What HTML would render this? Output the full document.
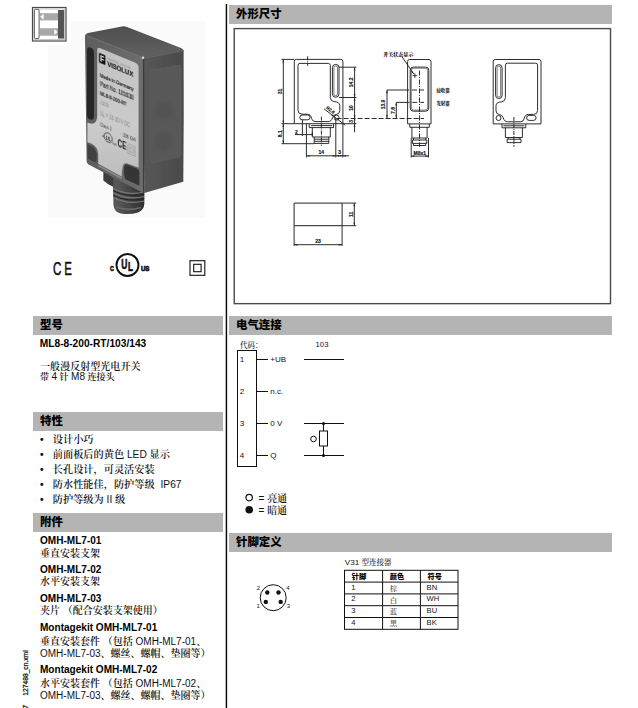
<!DOCTYPE html>
<html lang="zh-CN">
<head>
<meta charset="utf-8">
<title>ML8-8-200-RT/103/143</title>
<style>
html,body{margin:0;padding:0;background:#fff;}
body{width:638px;height:708px;position:relative;overflow:hidden;font-family:"Liberation Sans","Noto Serif CJK SC",sans-serif;color:#111;}
.abs{position:absolute;white-space:nowrap;}
.bar{position:absolute;background:#b4b4b4;height:19px;}
.bar span{position:absolute;left:7px;top:0;line-height:19px;font:900 11.4px/19px "Liberation Sans","Noto Sans CJK SC",sans-serif;color:#000;letter-spacing:0;}
.t{position:absolute;left:40px;white-space:nowrap;font-size:10.2px;line-height:12px;color:#111;}
.b{font-weight:bold;font-family:"Liberation Sans","Noto Sans CJK SC",sans-serif;color:#000;}
.s{font-family:"Liberation Sans","Noto Serif CJK SC",serif;font-weight:600;}
.s i{font-style:normal;font-weight:400;}
svg{position:absolute;left:0;top:0;overflow:visible;}
svg text{font-family:"Liberation Sans","Noto Serif CJK SC",sans-serif;}
svg .hei text, svg text.hei{font-family:"Liberation Sans","Noto Sans CJK SC",sans-serif;}
</style>
</head>
<body>

<!-- vertical divider -->
<svg width="638" height="708" viewBox="0 0 638 708"><rect x="225.7" y="4" width="1.45" height="704" fill="#0a0a0a"/><rect x="234.25" y="28.6" width="376.25" height="275.05" fill="none" stroke="#4a4a4a" stroke-width="1.4"/></svg>

<!-- LEFT COLUMN BARS -->
<div class="bar" style="left:33px;top:316px;width:190px;"><span>型号</span></div>
<div class="bar" style="left:33px;top:412px;width:190px;"><span>特性</span></div>
<div class="bar" style="left:33px;top:513px;width:190px;height:18.5px;"><span>附件</span></div>

<!-- RIGHT COLUMN BARS -->
<div class="bar" style="left:229px;top:5px;width:383px;"><span>外形尺寸</span></div>
<div class="bar" style="left:229px;top:316px;width:383px;"><span>电气连接</span></div>
<div class="bar" style="left:229px;top:533px;width:383px;"><span>针脚定义</span></div>

<!-- dimension box -->


<!-- LEFT TEXT -->
<div class="t b" style="top:338px;left:39.8px;font-size:10.2px;">ML8-8-200-RT/103/143</div>
<div class="t s" style="top:360.7px;font-size:10.05px;">一般漫反射型光电开关</div>
<div class="t s" style="top:371px;font-size:9px;">带 <i style="font-size:10px">4</i> 针 <i style="font-size:10px">M8</i> 连接头</div>

<div class="t s" style="top:434.4px;left:40px;">•</div><div class="t s" style="top:434.4px;left:52.8px;">设计小巧</div>
<div class="t s" style="top:449.4px;left:40px;">•</div><div class="t s" style="top:449.4px;left:52.8px;">前面板后的黄色 <i>LED</i> 显示</div>
<div class="t s" style="top:464.4px;left:40px;">•</div><div class="t s" style="top:464.4px;left:52.8px;">长孔设计，可灵活安装</div>
<div class="t s" style="top:479.4px;left:40px;">•</div><div class="t s" style="top:479.4px;left:52.8px;">防水性能佳，防护等级<i style="margin-left:3px"> IP67</i></div>
<div class="t s" style="top:494.4px;left:40px;">•</div><div class="t s" style="top:494.4px;left:52.8px;">防护等级为 <i>II</i> 级</div>

<div class="t b" style="top:534.8px;font-size:10.05px;">OMH-ML7-01</div>
<div class="t s" style="top:547.9px;font-size:10px;">垂直安装支架</div>
<div class="t b" style="top:563.8px;font-size:10.05px;">OMH-ML7-02</div>
<div class="t s" style="top:576.4px;font-size:10px;">水平安装支架</div>
<div class="t b" style="top:593.3px;font-size:10.05px;">OMH-ML7-03</div>
<div class="t s" style="top:605.4px;font-size:10px;">夹片 （配合安装支架使用）</div>
<div class="t b" style="top:622.3px;font-size:10.05px;">Montagekit OMH-ML7-01</div>
<div class="t s" style="top:635.9px;font-size:10px;">垂直安装套件 （包括 <i>OMH-ML7-01</i>、</div>
<div class="t s" style="top:647.9px;font-size:10px;"><i>OMH-ML7-03</i>、螺丝、螺帽、垫圈等）</div>
<div class="t b" style="top:664.3px;font-size:10.05px;">Montagekit OMH-ML7-02</div>
<div class="t s" style="top:677.9px;font-size:10px;">水平安装套件 （包括 <i>OMH-ML7-02</i>、</div>
<div class="t s" style="top:689.9px;font-size:10px;"><i>OMH-ML7-03</i>、螺丝、螺帽、垫圈等）</div>

<!-- rotated side text -->
<div class="abs" style="left:25.6px;top:673.4px;font-size:6.7px;line-height:6px;color:#000;-webkit-text-stroke:0.2px #000;transform:translate(-50%,-50%) rotate(-90deg);">127488_cn.xml</div>
<div class="abs" style="left:25.6px;top:706.5px;font-size:6.7px;line-height:6px;color:#000;-webkit-text-stroke:0.2px #000;transform:translate(-50%,-50%) rotate(-90deg);">7</div>

<!-- ELECTRICAL CONNECTION -->
<svg width="638" height="708" viewBox="0 0 638 708">
<g fill="none" stroke="#111" stroke-width="1">
  <rect x="237.5" y="350.5" width="19" height="116"/>
  <path d="M257 359.5H268 M257 391.5H268 M257 423.5H268 M257 455.5H268"/>
  <path d="M304 359.5H344 M304 423.5H344 M304 455.5H344"/>
  <path d="M323.5 423.5V431 M323.5 446V455.5"/>
  <rect x="319.5" y="431" width="8" height="15" fill="#fff"/>
  <circle cx="313.5" cy="439" r="2.8"/>
</g>
<circle cx="323.5" cy="423.5" r="1.6" fill="#111"/>
<circle cx="323.5" cy="455.5" r="1.6" fill="#111"/>
<g font-size="8" fill="#111">
  <text x="240" y="347.8" font-size="7.5" font-weight="500">代码：</text>
  <text x="315.6" y="347" font-size="7.7">103</text>
  <text x="239.8" y="362.1">1</text>
  <text x="239.8" y="394.1">2</text>
  <text x="239.8" y="426.1">3</text>
  <text x="239.8" y="458.1">4</text>
  <text x="270.3" y="362.2">+UB</text>
  <text x="270.3" y="394.2">n.c.</text>
  <text x="270.3" y="426.2">0 V</text>
  <text x="270.3" y="458.2">Q</text>
</g>
<!-- legend -->
<circle cx="249.2" cy="497.6" r="3.2" fill="#fff" stroke="#111" stroke-width="1.2"/>
<circle cx="249.2" cy="509.8" r="3.8" fill="#111"/>
<text x="258.5" y="502.1" font-size="10" fill="#111">= <tspan font-weight="600">亮通</tspan></text>
<text x="258.5" y="514.3" font-size="10" fill="#111">= <tspan font-weight="600">暗通</tspan></text>

<!-- PIN DEFINITION -->
<circle cx="273.2" cy="597.7" r="13" fill="#fff" stroke="#111" stroke-width="1"/>
<g fill="#111">
  <circle cx="267.3" cy="592.5" r="2.2"/><circle cx="278.5" cy="592.5" r="2.2"/>
  <circle cx="265.8" cy="601.9" r="2.2"/><circle cx="280.7" cy="601.9" r="2.2"/>
</g>
<g font-size="6" fill="#111" text-anchor="middle">
  <text x="258.4" y="589.8">2</text><text x="287.8" y="589.8">4</text>
  <text x="258.2" y="607.6">1</text><text x="288.3" y="607.6">3</text>
</g>
<text x="344.8" y="564.5" font-size="8.1" fill="#111">V31 <tspan font-size="7.5" font-weight="500" fill="#222">型连接器</tspan></text>
<g fill="none" stroke="#111" stroke-width="1">
  <rect x="344.5" y="570.3" width="113.5" height="59"/>
  <path d="M344.5 582.1H458 M344.5 593.9H458 M344.5 605.7H458 M344.5 617.5H458 M382.6 570.3V629.3 M420.4 570.3V629.3"/>
</g>
<g font-size="7.2" fill="#000" class="hei" font-weight="900">
  <text x="351.8" y="579">针脚</text><text x="389.8" y="579">颜色</text><text x="427.6" y="579">符号</text>
</g>
<g font-size="7.6" fill="#111">
  <text x="351.2" y="590.2">1</text><text x="351.2" y="601.4">2</text><text x="351.2" y="613">3</text><text x="351.2" y="624.7">4</text>
  <text x="426.6" y="590.2">BN</text><text x="426.6" y="601.4">WH</text><text x="426.6" y="613">BU</text><text x="426.6" y="624.7">BK</text>
</g>
<g font-size="7.4" fill="#444" font-weight="500">
  <text x="389.8" y="591">棕</text><text x="389.8" y="602.6">白</text><text x="389.8" y="614">蓝</text><text x="389.8" y="626.2">黑</text>
</g>
</svg>

<!-- ICONS -->
<svg width="638" height="708" viewBox="0 0 638 708">
<rect x="48" y="21" width="157.5" height="196.5" fill="#fafafa"/>
<rect x="28" y="3" width="43" height="42" fill="#fff"/>
<!-- top-left sensing mode icon -->
<rect x="32.5" y="7.5" width="33.5" height="33.5" fill="#fff" stroke="#4a4a4a" stroke-width="1.2"/>
<rect x="34" y="9" width="30.5" height="30.5" fill="none" stroke="#bbb" stroke-width="0.8"/>
<rect x="34.3" y="9.3" width="4.8" height="29.2" rx="1.2" fill="#fff" stroke="#555" stroke-width="1"/>
<rect x="58" y="10" width="6" height="28.6" fill="#555"/>
<rect x="40" y="13.2" width="18" height="7.2" fill="#a8a8a8"/>
<rect x="40" y="28.2" width="18" height="7.5" fill="#a8a8a8"/>
<path d="M40.3 16.8L43.6 13.8V19.8Z" fill="#fff"/>
<path d="M57.6 32L54.3 29V35Z" fill="#fff"/>
<!-- CE mark -->
<g fill="#111" stroke="#111" stroke-width="0.55" font-family="'Liberation Sans',sans-serif" font-size="18.6">
  <text x="52.9" y="274.5" textLength="8.4" lengthAdjust="spacingAndGlyphs">C</text>
  <text x="64.3" y="274.5" textLength="7.6" lengthAdjust="spacingAndGlyphs">E</text>
</g>
<!-- UL mark -->
<circle cx="127.5" cy="265" r="11" fill="#fff" stroke="#111" stroke-width="1.9"/>
<g fill="#111" stroke="#111" stroke-width="0.7" font-weight="bold" font-family="'Liberation Sans',sans-serif">
  <text x="121.2" y="268.9" font-size="13.8" textLength="6.1" lengthAdjust="spacingAndGlyphs">U</text>
  <text x="128" y="271.3" font-size="13" textLength="5" lengthAdjust="spacingAndGlyphs">L</text>
  <text x="109.9" y="271.2" font-size="7.9" textLength="3.8" lengthAdjust="spacingAndGlyphs">C</text>
  <text x="140.9" y="271.2" font-size="7.9" textLength="8.5" lengthAdjust="spacingAndGlyphs">US</text>
</g>
<!-- double square (class II) -->
<rect x="190" y="260.7" width="14.8" height="14.6" fill="#fff" stroke="#111" stroke-width="1.1"/>
<rect x="193.7" y="264.3" width="7.4" height="7.4" fill="#fff" stroke="#111" stroke-width="1.1"/>
</svg>

<!-- DIMENSIONAL DRAWINGS -->
<svg width="638" height="708" viewBox="0 0 638 708">
<g fill="none" stroke="#222" stroke-width="0.95" stroke-linejoin="round">
<!-- ===== view 1 : front ===== -->
  <path d="M294.3 123.7V61.4Q294.3 59.4 296.3 59.4H340.9Q342.9 59.4 342.9 61.4V123.7Z"/>
  <!-- inner contour -->
  <path d="M298 65.3Q298 63.4 300 63.4H328.4Q330.3 63.4 330.3 65.3V97.5Q330.6 101.2 334 101.6Q339.6 101.8 339.8 105.5V110.5Q339.6 114 336.6 114.3Q333.4 114.6 332.6 117.5Q331.6 121.6 328 121.6H315Q312.3 121.4 311.6 118.5Q310.8 114.3 307.5 114.2H302Q298 114 298 110.5Z"/>
  <!-- slot -->
  <rect x="332.4" y="64.4" width="6.6" height="32.8" rx="3.3"/>
  <rect x="333.9" y="65.9" width="3.6" height="29.8" rx="1.8" stroke-width="0.6"/>
  <!-- oblong mounting hole -->
  <rect x="299.8" y="115" width="10.2" height="4.8" rx="2.4"/>
  <!-- round mounting hole -->
  <circle cx="336.6" cy="117.6" r="2.5"/>
  <!-- connector -->
  <path d="M309.2 123.7V127.6H333.5V123.7 M312.3 127.6V137H330.3V127.6 M314.2 137V143.4H328.8V137 M314.2 139.2H328.8 M314.2 141.3H328.8 M311 125.6H332"/>
  <!-- centre lines -->
  <path d="M307.6 56.3V65.8 M321.4 116.6V145.8" stroke-dasharray="4 1 1 1"/>
  <!-- left dimensions 31 / 8.1 -->
  <path d="M283.3 59.4V143.7 M281.5 59.4H294.3 M281.5 123.7H294.3 M281.5 143.7H314.2"/>
  <!-- "2" dimension -->
  <path d="M295 134.6H313 M302.4 119.8V136 M312.3 132V136"/>
  <!-- right dimensions -->
  <path d="M354.6 67.2V132.3 M339 67.2H356.4 M339 97.5H356.4 M342.9 123.7H356.4"/>
  <path d="M336.6 118.5H424" stroke-dasharray="5 2"/>
  <!-- bottom dimensions -->
  <path d="M306.4 155.8H349 M306.4 123.7V157.5 M335.8 118V157.5 M342.9 123.7V157.5"/>
  <!-- R2.8 leader -->
  <path d="M324 108.8L345.2 125.2"/>

<!-- ===== view 2 : side ===== -->
  <path d="M407.6 123.9V61.5Q407.6 59.5 409.6 59.5H429Q431 59.5 431 61.5V123.9Z"/>
  <rect x="410.2" y="67.1" width="18.6" height="44.1" rx="3.2"/>
  <rect x="411.3" y="68.2" width="16.4" height="41.9" rx="2.4" stroke-width="0.6"/>
  <path d="M409.8 123.9V127.3H429.3V123.9 M411.9 127.3V138H427.1V127.3 M412.4 140H426.8V143.4H412.4Z M413.5 138V140 M425.7 138V140 M413.5 143.4V145.5H425.7V143.4"/>
  <path d="M419.5 70.5V146.8" stroke-dasharray="5 1.5 1 1.5"/>
  <path d="M387 90H424" stroke-dasharray="22 3 5 3"/>
  <path d="M396.3 102.4H424" stroke-dasharray="13 3 5 3"/>
  <path d="M387 90V118.3 M396.3 102.4V118.3"/>
  <path d="M412.6 75.6H417.2 M414.9 73.3V77.9" stroke-width="0.9"/>
  <path d="M402.2 57L413.7 73.9"/>
  <path d="M411.2 156.1H428.5 M411.2 138V157.5 M428.5 138V157.5"/>

<!-- ===== view 3 : rear ===== -->
  <path d="M493.2 123.9V61.5Q493.2 59.5 495.2 59.5H539Q541 59.5 541 61.5V123.9Z"/>
  <path d="M537.6 65.1Q537.6 63.2 535.6 63.2H507.4Q505.4 63.2 505.4 65.1V97.7Q505.2 101.4 501.8 101.8Q496.2 102 496 105.7V110.7Q496.2 114.2 499.2 114.5Q502.4 114.8 503.2 117.7Q504.2 121.8 507.8 121.8H520.8Q523.5 121.6 524.2 118.7Q525 114.5 528.3 114.4H533.6Q537.6 114.2 537.6 110.7Z"/>
  <rect x="495.6" y="64.6" width="6.5" height="33.9" rx="3.2"/>
  <rect x="497.1" y="66.1" width="3.5" height="30.9" rx="1.7" stroke-width="0.6"/>
  <circle cx="498.5" cy="118" r="2.5"/>
  <rect x="526.6" y="115.4" width="9.5" height="5" rx="2.5"/>
  <path d="M502 123.9V127.8H525.8V123.9 M505.4 127.8V137.5H522.4V127.8 M507.1 139.2H521V142.6H507.1Z M508.2 137.5V139.2 M519.9 137.5V139.2 M503.5 125.8H524.3"/>
  <path d="M513.9 117V146.8" stroke-dasharray="4 1 1 1"/>

<!-- ===== view 4 : top ===== -->
  <rect x="294.1" y="203.1" width="48" height="22.6" stroke-width="1"/>
  <path d="M354.3 203.1V225.7 M342.1 203.1H356.2 M342.1 225.7H356.2"/>
  <path d="M294.1 244.7H342.1 M294.1 225.7V246 M342.1 225.7V246"/>
</g>
<!-- arrow heads -->
<g fill="#2a2a2a" stroke="none">
  <path d="M283.3 59.4l-.9 3.2h1.8z M283.3 123.7l-.9-3.2h1.8z M283.3 123.7l-.9 3.2h1.8z M283.3 143.7l-.9-3.2h1.8z"/>
  <path d="M354.6 67.2l-.9 3.2h1.8z M354.6 97.5l-.9-3.2h1.8z M354.6 97.5l-.9 3.2h1.8z M354.6 118.5l-.9-3.2h1.8z M354.6 118.5l-.9 2h1.8z M354.6 123.7l-.9 3.2h1.8z"/>
  <path d="M306.4 155.8l3.2-.9v1.8z M335.8 155.8l-3.2-.9v1.8z M335.8 155.8l3.2-.9v1.8z M342.9 155.8l-3.2-.9v1.8z M342.9 155.8l3.2-.9v1.8z"/>
  <path d="M387 90l-.9 3.2h1.8z M387 118.3l-.9-3.2h1.8z M396.3 102.4l-.9 3.2h1.8z M396.3 118.3l-.9-3.2h1.8z"/>
  <path d="M411.2 156.1l3.2-.9v1.8z M428.5 156.1l-3.2-.9v1.8z"/>
  <path d="M354.3 203.1l-.9 3.2h1.8z M354.3 225.7l-.9-3.2h1.8z"/>
  <path d="M294.1 244.7l3.4-1v2z M342.1 244.7l-3.4-1v2z"/>
  <path d="M413.7 73.9l-2.6-2.1 1.3-.9z"/>
  <path d="M334.6 117l-3.3-1.4 1-1.3z"/>
</g>
<!-- dimension texts -->
<g font-size="5" font-weight="bold" fill="#111" stroke="#111" stroke-width="0.15" text-anchor="middle">
  <text transform="translate(281.6 91.5) rotate(-90)">31</text>
  <text transform="translate(281.6 133.8) rotate(-90)">8.1</text>
  <text transform="translate(352.9 82.3) rotate(-90)">14.2</text>
  <text transform="translate(352.9 108) rotate(-90)">10</text>
  <text transform="translate(352.9 121.3) rotate(-90)">3</text>
  <text x="321.2" y="154">14</text>
  <text x="339.6" y="154">3</text>
  <text x="296.4" y="134">2</text>
  <text transform="translate(329.5 111.2) rotate(38)" font-size="4.5">R2.8</text>
  <text transform="translate(385.3 104.5) rotate(-90)">13.9</text>
  <text transform="translate(394.6 110.5) rotate(-90)">7.8</text>
  <text x="419.8" y="154.6">M8x1</text>
  <text transform="translate(352.6 214.4) rotate(-90)">11</text>
  <text x="318.1" y="243">23</text>
</g>
<g font-size="5" fill="#111" font-weight="900">
  <text x="383.2" y="56.2">开关状态显示</text>
  <text x="436.4" y="91.8" font-size="4.4">接收器</text>
  <text x="436.4" y="105.4" font-size="4.4">发射器</text>
</g>
</svg>

<!-- PRODUCT PHOTO (vector approximation) -->
<svg width="638" height="708" viewBox="0 0 638 708">
<defs>
  <filter id="soft" x="-5%" y="-5%" width="110%" height="110%"><feGaussianBlur stdDeviation="0.55"/></filter>
  <filter id="soft2" x="-20%" y="-20%" width="140%" height="140%"><feGaussianBlur stdDeviation="1.2"/></filter>
  <linearGradient id="gTop" x1="0" y1="0" x2="0" y2="1"><stop offset="0" stop-color="#4e4e4e"/><stop offset="1" stop-color="#626262"/></linearGradient>
  <linearGradient id="gRight" x1="0" y1="0" x2="1" y2="0"><stop offset="0" stop-color="#585858"/><stop offset="0.5" stop-color="#505050"/><stop offset="1" stop-color="#4a4a4a"/></linearGradient>
  <linearGradient id="gFront" x1="0" y1="0" x2="1" y2="0"><stop offset="0" stop-color="#5c5c5c"/><stop offset="1" stop-color="#6e6e6e"/></linearGradient>
  <linearGradient id="gLabel" x1="0" y1="0" x2="0" y2="1"><stop offset="0" stop-color="#c2c2c2"/><stop offset="0.6" stop-color="#cbcbcb"/><stop offset="1" stop-color="#bdbdbd"/></linearGradient>
  <linearGradient id="gCyl" x1="0" y1="0" x2="1" y2="0"><stop offset="0" stop-color="#2c2c2c"/><stop offset="0.3" stop-color="#5a5a5a"/><stop offset="0.6" stop-color="#484848"/><stop offset="1" stop-color="#2e2e2e"/></linearGradient>
</defs>
<g filter="url(#soft)">
  <!-- connector -->
  <path d="M103.6 171L103.6 180.4Q107 183.6 113 186.4L113.5 205Q114 212 121 213.6Q130 215 138 212.5Q144 210 144.3 204V186L143 176Z" fill="url(#gCyl)"/>
  <path d="M103.6 172V180.4Q107 183.6 113 186.4V178Z" fill="#3c3c3c"/>
  <path d="M113 188.5Q128 196 144.3 192 M113 193Q128 200.5 144.3 196.5 M113.2 197.5Q128 205 144.3 201" stroke="#777" stroke-width="1.1" fill="none"/>
  <path d="M113 190.7Q128 198.2 144.3 194.2 M113 195.2Q128 202.7 144.3 198.7" stroke="#222" stroke-width="1" fill="none"/>
  <path d="M116 207Q128 211.5 141 207.5" stroke="#6a6a6a" stroke-width="1.6" fill="none"/>
  <!-- top face -->
  <path d="M85 35.5Q85.5 33.6 88 33L122 26.4Q124.5 26 127 27L181 48Q183.6 49.2 183.6 51L143.4 58.4Z" fill="url(#gTop)"/>
  <!-- right face -->
  <path d="M143 57.8L183.6 50Q184 115 183.3 181.8L144.3 193Z" fill="url(#gRight)"/>
  <path d="M150 72.4Q150 70.4 152 70L179 65.2Q181 64.8 181 66.8V154.8Q181 156.6 179 157L152.4 162.8Q150.4 163.2 150.4 161.2Z" fill="#585858" stroke="#626262" stroke-width="0.6"/>
  <circle cx="164" cy="110.7" r="9" fill="#525252" filter="url(#soft2)"/>
  <circle cx="164" cy="141.3" r="9" fill="#525252" filter="url(#soft2)"/>
  <!-- front face -->
  <path d="M85 36.5Q85 34.6 87 35.2L143.3 57.6L144.3 193.6L88.5 164.4Q86.6 163.4 86.6 161Z" fill="url(#gFront)"/>
  <!-- edge highlights -->
  <path d="M86 35.4L143.3 57.8" stroke="#727272" stroke-width="0.9" fill="none"/>
  <path d="M143.6 58V193" stroke="#3e3e3e" stroke-width="1.4" fill="none"/>
  <path d="M145 58.2L183 50.6" stroke="#6a6a6a" stroke-width="0.9" fill="none"/>
  <circle cx="143" cy="57.8" r="1.3" fill="#d6d6d6"/>
  <!-- long slot -->
  <path d="M87 50.5Q87 46.6 90.4 47.4Q93.9 48.6 93.9 52.5V116Q93.9 120.6 90.4 119.6Q87 118.4 87 114.6Z" fill="#252525"/>
  <!-- label -->
  <path d="M97.2 50.2Q97.2 46.8 100.4 48.2L135.4 62.8Q138.6 64.4 138.6 67.6V167.4L126.4 163.2Q123 163 122.6 167Q121.8 172 121.6 176.6L98.2 163.8V154Q97.6 146.6 91 143.6L87.4 142.2V122.6Q92 125 95 122.4Q97.2 120.4 97.2 115Z" fill="url(#gLabel)"/>
  <!-- mounting holes -->
  <path d="M87.4 144.6Q95 146.4 96.6 153.4V162.6Q92 161.4 87.6 158.6Z" fill="#404040"/>
  <path d="M127 164.6L137.4 168.8Q139.6 169.8 139.4 173V185.8L125.4 179.2Q123.2 172 124.2 166.6Q124.8 164 127 164.6Z" fill="#353535"/>
  <!-- bottom bevel highlight -->
  <path d="M98.4 165.6L121.6 178.2" stroke="#8c8c8c" stroke-width="1.6" fill="none"/>
</g>
<!-- label printing -->
<g transform="matrix(1 0.42 0 1 0 0)" font-family="'Liberation Sans',sans-serif" fill="#1a1a1a" filter="url(#soft)">
  <path d="M99 11.2h6.4v9.6h-6.4z" fill="#111"/>
  <text x="100.3" y="19.4" font-size="8.4" font-weight="bold" textLength="3.8" lengthAdjust="spacingAndGlyphs" fill="#e6e6e6">F</text>
  <text x="107.4" y="15" font-size="3" textLength="23" lengthAdjust="spacingAndGlyphs" fill="#8c8c8c">PEPPERL+FUCHS</text>
  <text x="107.2" y="21.2" font-size="6.9" font-weight="bold" textLength="26" lengthAdjust="spacingAndGlyphs" stroke="#1a1a1a" stroke-width="0.2">VISOLUX</text>
  <text x="100" y="35.2" font-size="6.2" textLength="33.6" lengthAdjust="spacingAndGlyphs" stroke="#1a1a1a" stroke-width="0.2">Made in Germany</text>
  <text x="100" y="44.1" font-size="7.3" textLength="33.6" lengthAdjust="spacingAndGlyphs" stroke="#1a1a1a" stroke-width="0.15">Part No. 181638</text>
  <text x="100" y="53.5" font-size="6.2" textLength="26.6" lengthAdjust="spacingAndGlyphs" stroke="#1a1a1a" stroke-width="0.2">ML8-8-200-RT</text>
  <text x="100" y="61.6" font-size="6" textLength="9" lengthAdjust="spacingAndGlyphs" fill="#808080">/103/</text>
  <text x="100" y="73.4" font-size="6.6" textLength="30.4" lengthAdjust="spacingAndGlyphs" fill="#808080">U<tspan font-size="3.5" dy="1">B</tspan><tspan dy="-1"> = 10-30 V DC</tspan></text>
  <text x="100" y="84.4" font-size="5.8" textLength="11.6" lengthAdjust="spacingAndGlyphs" fill="#3c3c3c">Class 2</text>
  <text x="122.9" y="85.4" font-size="6.2" textLength="12.8" lengthAdjust="spacingAndGlyphs" fill="#333">38 04</text>
  <ellipse cx="108.2" cy="92.2" rx="4" ry="4.6" fill="none" stroke="#333" stroke-width="0.8"/>
  <text x="105.8" y="94.6" font-size="6" font-weight="bold" font-style="italic" textLength="5" lengthAdjust="spacingAndGlyphs" fill="#222">UL</text>
  <text x="102.4" y="94.2" font-size="3.4" font-weight="bold" fill="#333">c</text>
  <text x="112.8" y="97.4" font-size="3.4" font-weight="bold" fill="#333">us</text>
  <text x="117.6" y="97.3" font-size="11.2" font-weight="bold" textLength="8.8" lengthAdjust="spacingAndGlyphs" fill="#222">CE</text>
  <rect x="128" y="90" width="7" height="9.6" fill="none" stroke="#9a9a9a" stroke-width="0.8"/>
  <rect x="130" y="92.4" width="3" height="4.8" fill="none" stroke="#9a9a9a" stroke-width="0.7"/>
</g>
</svg>


</body>
</html>
